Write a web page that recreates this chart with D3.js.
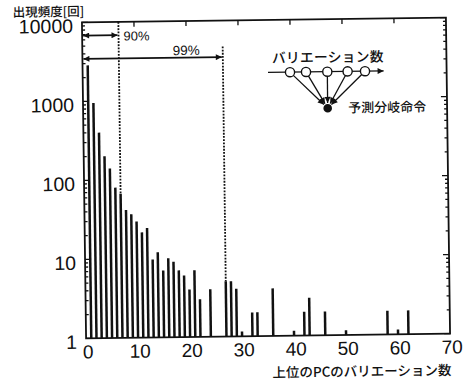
<!DOCTYPE html>
<html>
<head>
<meta charset="utf-8">
<script src="https://cdn.jsdelivr.net/npm/d3@7"></script>
<style>
  body { margin: 0; background: #fff; }
  svg { display: block; }
  .num { font-family: "Liberation Sans", Arial, sans-serif; fill: #111; }
  .jp { font-family: "Noto Sans CJK JP", sans-serif; fill: #111; }
</style>
</head>
<body>
<svg id="chart" width="469" height="381"></svg>
<script>
// data
const variations = [1, 2, 3, 4, 5, 6, 7, 8, 9, 10, 11, 12, 13, 14, 15, 16, 17, 18, 19, 20, 21, 22,
                    24, 27, 28, 29, 30, 32, 33, 36, 40, 42, 43, 46, 50, 58, 60, 62];
const frequency  = [2850, 950, 400, 200, 140, 80, 67, 41.5, 36.5, 29.6, 21.5, 24.4, 9.7, 12, 7, 10, 9, 7, 6, 4, 7, 3,
                    4, 5, 5, 4, 1.15, 2, 2, 4, 1.15, 2, 3, 2, 1.15, 2, 1.15, 2];
const xTicks = [0, 10, 20, 30, 40, 50, 60, 70];
const yTicks = [1, 10, 100, 1000, 10000];
const yTickLabels = ["1", "10", "100", "1000", "10000"];
const coverX = [7, 27];          // 90% / 99% cut lines
const coverLabels = ["90%", "99%"];
const arrowLevel = [6800, 3450]; // height of the double arrows
const cut99Top = 4700;

const svg = d3.select("#chart");
// the scan is tilted a little
const root = svg.append("g").attr("transform", "rotate(-0.75, 266, 178)");

const x = d3.scaleLinear().domain([0, 70]).range([84, 448]);
const y = d3.scaleLog().domain([1, 10000]).range([336, 20]);

const defs = svg.append("defs");
defs.append("marker")
    .attr("id", "arrow")
    .attr("viewBox", "0 0 10 10")
    .attr("refX", 10).attr("refY", 5)
    .attr("markerWidth", 7).attr("markerHeight", 6)
    .attr("markerUnits", "userSpaceOnUse")
    .attr("orient", "auto-start-reverse")
    .append("path").attr("d", "M0,0 L10,5 L0,10 Z").attr("fill", "#111");

// bars
root.selectAll(".bar")
    .data(variations)
    .enter().append("rect")
    .attr("class", "bar")
    .attr("x", d => x(d) - 1.25)
    .attr("width", 2.5)
    .attr("y", (d, i) => y(frequency[i]))
    .attr("height", (d, i) => y(1) - y(frequency[i]))
    .attr("fill", "#111");

// frame
root.append("rect")
    .attr("x", x(0)).attr("y", y(10000))
    .attr("width", x(70) - x(0)).attr("height", y(1) - y(10000))
    .attr("fill", "none").attr("stroke", "#111").attr("stroke-width", 1.8);

// log ticks, left and right, pointing inward
const logTicks = [];
[1, 10, 100, 1000].forEach(d => { for (let m = 1; m <= 9; m++) logTicks.push({ v: d * m, major: m === 1 }); });
logTicks.push({ v: 10000, major: true });
logTicks.forEach(t => {
    const len = t.major ? 6 : 3;
    root.append("line").attr("x1", x(0)).attr("x2", x(0) + len)
        .attr("y1", y(t.v)).attr("y2", y(t.v)).attr("stroke", "#111").attr("stroke-width", 1.3);
    root.append("line").attr("x1", x(70)).attr("x2", x(70) - len)
        .attr("y1", y(t.v)).attr("y2", y(t.v)).attr("stroke", "#111").attr("stroke-width", 1.3);
});

// top ticks
xTicks.slice(1, -1).forEach(v => {
    root.append("line").attr("x1", x(v)).attr("x2", x(v))
        .attr("y1", y(10000)).attr("y2", y(10000) + 5).attr("stroke", "#111").attr("stroke-width", 1.3);
});

// tick labels
root.selectAll(".ylab")
    .data(yTicks)
    .enter().append("text")
    .attr("class", "num ylab")
    .attr("x", 75)
    .attr("y", d => y(d) + 3.5)
    .attr("dy", "0.35em")
    .attr("text-anchor", "end")
    .attr("font-size", 19.5)
    .text((d, i) => yTickLabels[i]);

root.selectAll(".xlab")
    .data(xTicks)
    .enter().append("text")
    .attr("class", "num xlab")
    .attr("x", d => x(d) + 2)
    .attr("y", 356)
    .attr("text-anchor", "middle")
    .attr("font-size", 19)
    .text(d => d);

// axis titles
root.append("text").attr("class", "jp").attr("x", 15).attr("y", 13.5)
    .attr("font-size", 12.5).attr("font-weight", 500).text("出現頻度[回]");
root.append("text").attr("class", "jp").attr("x", 449).attr("y", 377.5)
    .attr("text-anchor", "end").attr("font-size", 13.5).attr("font-weight", 500)
    .text("上位のPCのバリエーション数");

// 90% / 99% cut lines and arrows
const cutTop = [10000, cut99Top];
coverX.forEach((cx, k) => {
    const f = frequency[variations.indexOf(cx)];
    root.append("line")
        .attr("x1", x(cx)).attr("x2", x(cx))
        .attr("y1", y(cutTop[k])).attr("y2", y(f))
        .attr("stroke", "#111").attr("stroke-width", 1.8)
        .attr("stroke-dasharray", "1.8,1.4");
    root.append("line")
        .attr("x1", x(0) + 1).attr("x2", x(cx) - 1)
        .attr("y1", y(arrowLevel[k])).attr("y2", y(arrowLevel[k]))
        .attr("stroke", "#111").attr("stroke-width", 1.8)
        .attr("marker-start", "url(#arrow)").attr("marker-end", "url(#arrow)");
});
root.append("text").attr("class", "num").attr("x", x(coverX[0]) + 5).attr("y", y(arrowLevel[0]) + 5.5)
    .attr("font-size", 13).text(coverLabels[0]);
root.append("text").attr("class", "num").attr("x", x(coverX[1]) - 50).attr("y", y(arrowLevel[1]) - 2.5)
    .attr("font-size", 13.5).text(coverLabels[1]);

// inset sketch: variations feeding the predicted branch
const inset = root.append("g");
const nodeX = [291.4, 307.4, 328.7, 349, 366.4];
const nodeY = 72.5, nodeR = 4.6;
const target = { x: 328.6, y: 109, r: 4.3 };
inset.append("text").attr("class", "jp").attr("x", 273.5).attr("y", 63)
    .attr("font-size", 13.8).attr("font-weight", 500).attr("letter-spacing", 0.2).text("バリエーション数");
inset.append("line").attr("x1", 269.4).attr("x2", 385).attr("y1", nodeY).attr("y2", nodeY)
    .attr("stroke", "#111").attr("stroke-width", 1.3).attr("marker-end", "url(#arrow)");
nodeX.forEach(nx => {
    const dx = target.x - nx, dy = target.y - nodeY, len = Math.hypot(dx, dy);
    inset.append("line")
        .attr("x1", nx + dx / len * nodeR).attr("y1", nodeY + dy / len * nodeR)
        .attr("x2", target.x - dx / len * (target.r + 1)).attr("y2", target.y - dy / len * (target.r + 1))
        .attr("stroke", "#111").attr("stroke-width", 1.3).attr("marker-end", "url(#arrow)");
});
inset.selectAll("circle.node").data(nodeX).enter().append("circle")
    .attr("class", "node").attr("cx", d => d).attr("cy", nodeY).attr("r", nodeR)
    .attr("fill", "#fff").attr("stroke", "#111").attr("stroke-width", 1.4);
inset.append("circle").attr("cx", target.x).attr("cy", target.y).attr("r", target.r).attr("fill", "#111");
inset.append("text").attr("class", "jp").attr("x", 349).attr("y", 113.5)
    .attr("font-size", 13).attr("font-weight", 500).text("予測分岐命令");
</script>
</body>
</html>
